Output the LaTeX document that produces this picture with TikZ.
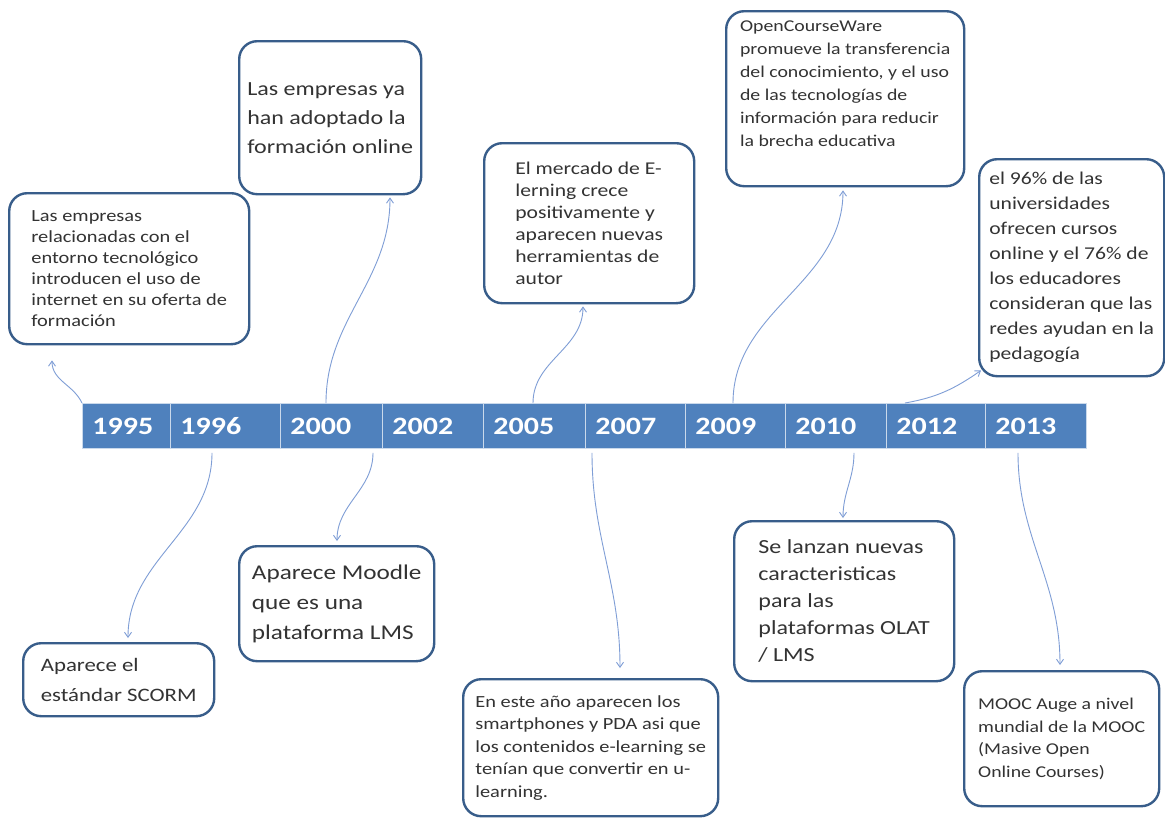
\documentclass[tikz,border=0pt]{standalone}
\usepackage{fontspec}
\setmainfont[FakeStretch=1.2]{Carlito}
\usetikzlibrary{arrows.meta}
\definecolor{barBlue}{HTML}{4F81BD}
\definecolor{frameBlue}{HTML}{385D8A}
\definecolor{linkBlue}{HTML}{7F9ED6}
\newcommand{\fs}[2]{\fontsize{#1}{#2}\selectfont}

\begin{document}
\begin{tikzpicture}[x=1pt,y=-1pt,
    >={Straight Barb[length=5pt,width=7pt]},
    yearcell/.style={fill=barBlue,draw=white!70!barBlue,line width=0.8pt,
                     anchor=north west,minimum height=45pt,inner xsep=10pt,inner ysep=0pt,
                     align=left,text=white,font=\bfseries\fs{25}{25}},
    event/.style={draw=frameBlue,line width=2.4pt,rounded corners=18pt,fill=white,
                  anchor=north west,align=left,inner sep=0pt,text=black!80},
    link/.style={->,linkBlue,line width=0.9pt}
  ]
  \useasboundingbox[fill=white] (0,0) rectangle (1165,828);
  %% Timeline bar: one cell per year
  \foreach \yr/\xa/\xb [evaluate=\xa as \w using \xb-\xa,
                        evaluate=\xa as \tw using \xb-\xa-20] in
     {1995/82/170,1996/170/280,2000/280/382,2002/382/483,2005/483/585,
      2007/585/685,2009/685/785,2010/785/886,2012/886/985,2013/985/1086}
    \node[yearcell,minimum width=\w pt,text width=\tw pt] (c\yr) at (\xa,403) {\yr};
  %% Events above the bar
  \node[event,minimum width=240pt,minimum height=151pt,font=\fs{17}{21}] (evA) at (8,192)
       {Las empresas\\relacionadas con el\\entorno tecnológico\\introducen el uso de\\internet en su oferta de\\formación};
  \node[event,minimum width=182pt,minimum height=153pt,font=\fs{20}{29}] (evB) at (238,40)
       {Las empresas ya\\han adoptado la\\formación online};
  \node[event,minimum width=210pt,minimum height=160pt,font=\fs{18}{22}] (evC) at (483,142)
       {El mercado de E-\\lerning crece\\positivamente y\\aparecen nuevas\\herramientas de\\autor};
  \node[event,minimum width=238pt,minimum height=175pt,font=\fs{16.5}{23}] (evI) at (725,10)
       {OpenCourseWare\\promueve la transferencia\\del conocimiento, y el uso\\de las tecnologías de\\información para reducir\\la brecha educativa\\[8pt]};
  \node[event,minimum width=185pt,minimum height=217pt,font=\fs{18}{25}] (evJ) at (978,158)
       {el 96\% de las\\universidades\\ofrecen cursos\\online y el 76\% de\\los educadores\\consideran que las\\redes ayudan en la\\pedagogía};
  %% Events below the bar
  \node[event,minimum width=191pt,minimum height=73pt,font=\fs{19}{30}] (evD) at (22,642)
       {Aparece el\\estándar SCORM};
  \node[event,minimum width=195pt,minimum height=115pt,font=\fs{21}{30}] (evE) at (238,545)
       {Aparece Moodle\\que es una\\plataforma LMS};
  \node[event,minimum width=255pt,minimum height=137pt,font=\fs{17}{22.5}] (evF) at (462,678)
       {En este año aparecen los\\smartphones y PDA asi que\\los contenidos e-learning se\\tenían que convertir en u-\\learning.};
  \node[event,minimum width=220pt,minimum height=160pt,font=\fs{20}{27}] (evG) at (733,520)
       {Se lanzan nuevas\\caracteristicas\\para las\\plataformas OLAT\\/ LMS};
  \node[event,minimum width=195pt,minimum height=135pt,font=\fs{16.5}{22.5}] (evH) at (963,670)
       {MOOC Auge a nivel\\mundial de la MOOC\\(Masive Open\\Online Courses)};
  %% Links from the years to the events
  \draw[link] (c1995.north west) to[out=115,in=-90] ([xshift=44pt,yshift=-15pt]evA.south west);
  \draw[link] ([xshift=46pt]c2000.north west) to[out=90,in=-90] ([xshift=152pt,yshift=-2pt]evB.south west);
  \draw[link] ([xshift=50pt]c2005.north west) to[out=90,in=-90] ([xshift=100pt,yshift=-2pt]evC.south west);
  \draw[link] ([xshift=48pt]c2009.north west) to[out=90,in=-90] ([xshift=118pt,yshift=-3pt]evI.south west);
  \draw[link] ([xshift=19pt]c2012.north west) to[out=10,in=215] ([xshift=3pt,yshift=7pt]evJ.south west);
  \draw[link] ([xshift=42pt,yshift=-4pt]c1996.south west) to[out=-90,in=90] ([xshift=106pt,yshift=4pt]evD.north west);
  \draw[link] ([xshift=93pt,yshift=-4pt]c2000.south west) to[out=-90,in=90] ([xshift=99pt,yshift=4pt]evE.north west);
  \draw[link] ([xshift=7pt,yshift=-4pt]c2007.south west) to[out=-90,in=90] ([xshift=158pt,yshift=10pt]evF.north west);
  \draw[link] ([xshift=69pt,yshift=-4pt]c2010.south west) to[out=-90,in=90] ([xshift=110pt,yshift=2pt]evG.north west);
  \draw[link] ([xshift=33pt,yshift=-4pt]c2013.south west) to[out=-90,in=90] ([xshift=97pt,yshift=5pt]evH.north west);
\end{tikzpicture}
\end{document}
